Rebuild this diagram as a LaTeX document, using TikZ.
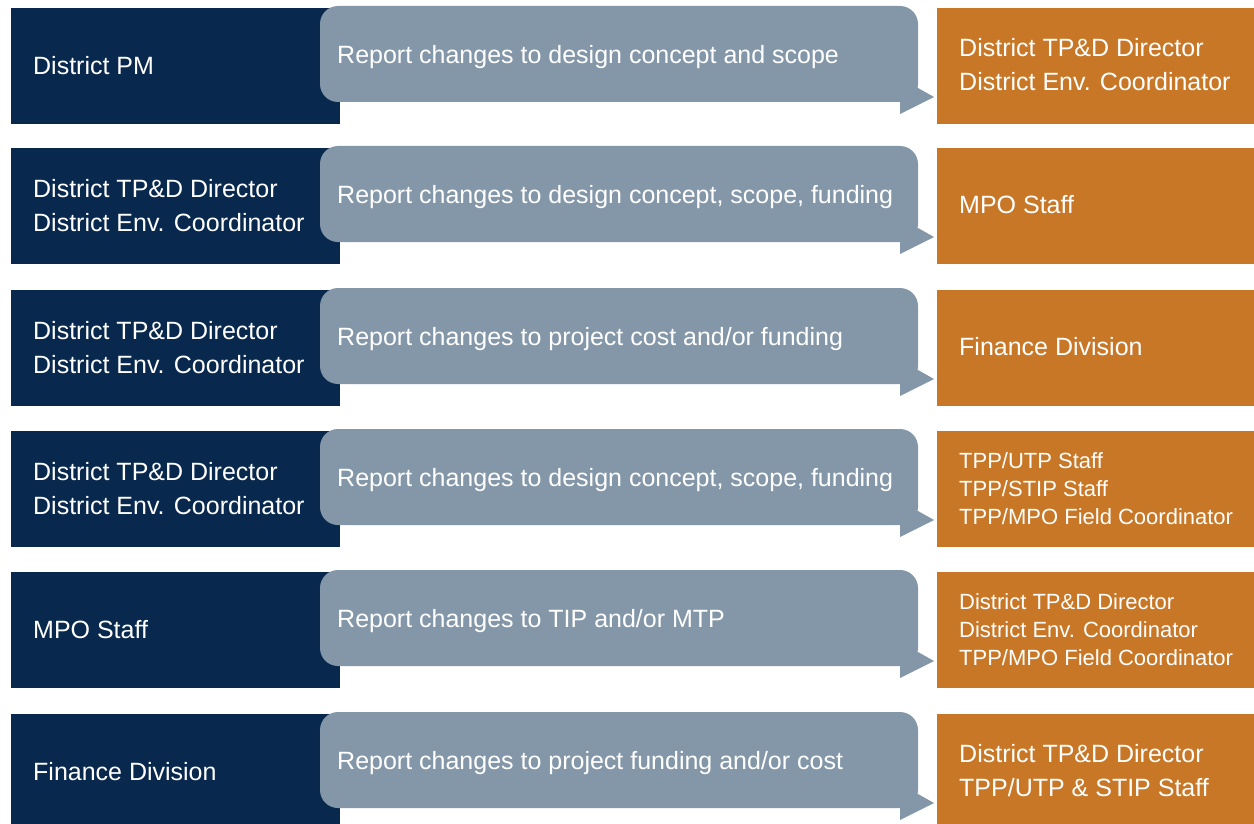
\documentclass[tikz,border=0pt]{standalone}
\usepackage{fontspec}
\setmainfont{Liberation Sans}
\definecolor{navy}{HTML}{08284D}
\definecolor{bub}{HTML}{8497A8}
\definecolor{org}{HTML}{C87727}
\begin{document}
\begin{tikzpicture}[x=1pt,y=-1pt,
  srcbox/.style={fill=navy,draw=none},
  dstbox/.style={fill=org,draw=none},
  bubble/.style={fill=bub,draw=none},
  lbl/.style={text=white,anchor=west,align=left,inner sep=0pt,font=\fontsize{25}{34}\selectfont},
  slbl/.style={text=white,anchor=west,align=left,inner sep=0pt,font=\fontsize{22}{28}\selectfont}]
\useasboundingbox (0,0) rectangle (1254,824);
\foreach \i/\t/\src/\msg/\dst/\small in {
  0/8/{District PM}/{Report changes to design concept and scope}/{District TP\&D Director\\District Env. Coordinator}/0,
  1/148/{District TP\&D Director\\District Env. Coordinator}/{Report changes to design concept, scope, funding}/{MPO Staff}/0,
  2/290/{District TP\&D Director\\District Env. Coordinator}/{Report changes to project cost and/or funding}/{Finance Division}/0,
  3/431/{District TP\&D Director\\District Env. Coordinator}/{Report changes to design concept, scope, funding}/{TPP/UTP Staff\\TPP/STIP Staff\\TPP/MPO Field Coordinator}/1,
  4/572/{MPO Staff}/{Report changes to TIP and/or MTP}/{District TP\&D Director\\District Env. Coordinator\\TPP/MPO Field Coordinator}/1,
  5/714/{Finance Division}/{Report changes to project funding and/or cost}/{District TP\&D Director\\TPP/UTP \& STIP Staff}/0}
{
  \path[srcbox] (11,\t) rectangle (340,\t+116);
  \path[dstbox] (937,\t) rectangle (1254,\t+116);
  \path[bubble,rounded corners=18pt] (320,\t-2) rectangle (918,\t+94);
  \path[bubble] (900,\t+80) -- (918,\t+80) -- (934,\t+89) -- (900,\t+106) -- cycle;
  \node[lbl] (s\i) at (33,\t+58) {\src};
  \node[lbl] (m\i) at (337,\t+49) {\msg};
  \ifnum\small=1
    \node[slbl] (d\i) at (959,\t+58) {\dst};
  \else
    \node[lbl] (d\i) at (959,\t+57) {\dst};
  \fi
}
\end{tikzpicture}
\end{document}
